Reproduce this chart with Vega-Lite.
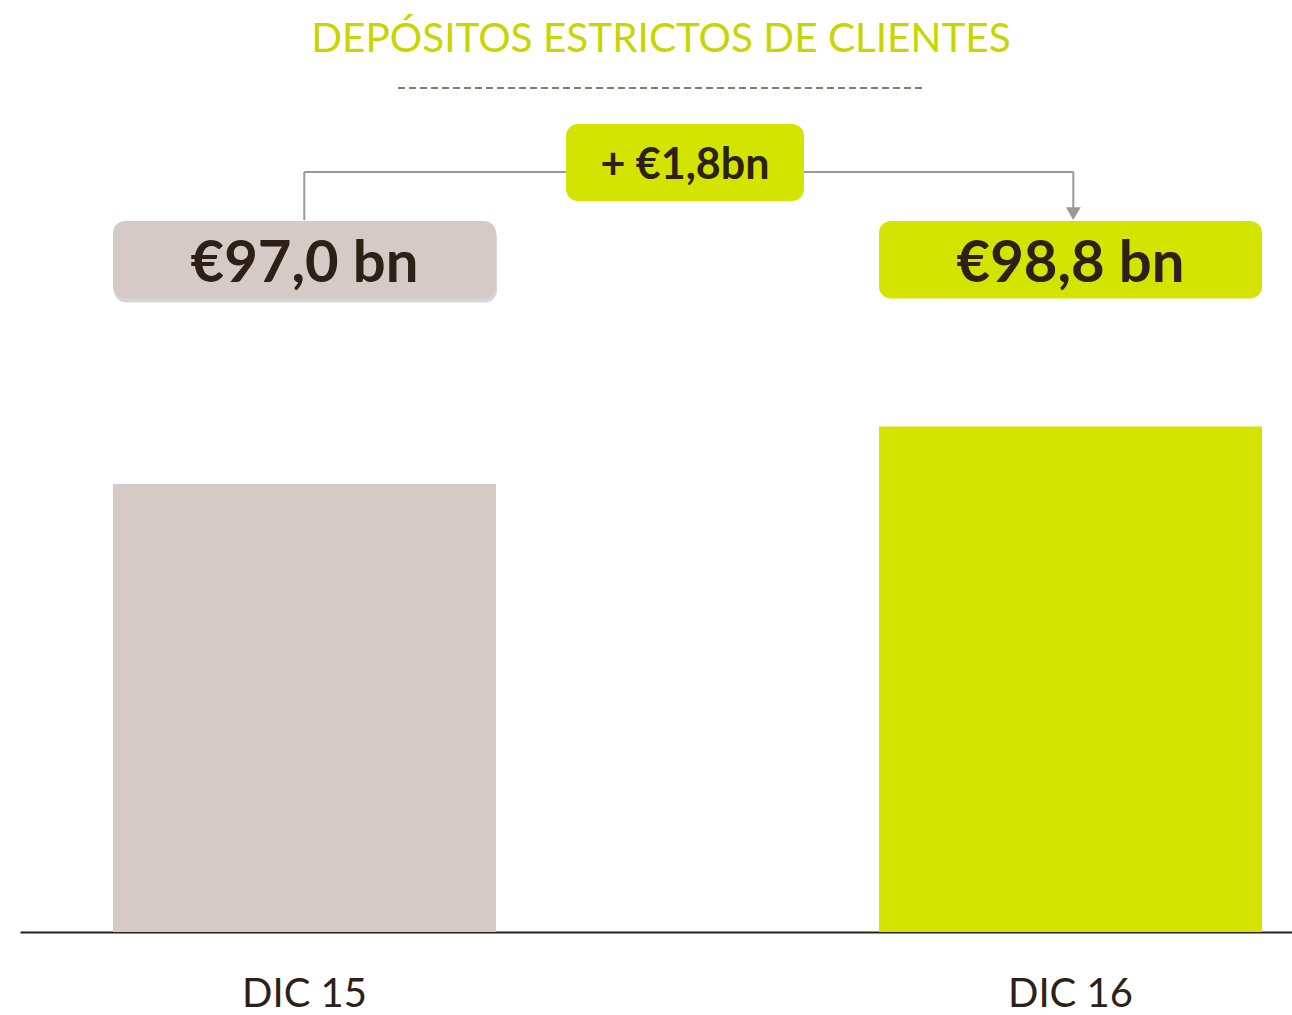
{
  "$schema": "https://vega.github.io/schema/vega-lite/v6.json",
  "width": 1272,
  "height": 852,
  "autosize": {"type": "none"},
  "padding": {"left": 20, "top": 80, "right": 0, "bottom": 83},
  "background": "white",
  "config": {"view": {"stroke": null}, "font": "Lato"},
  "title": {
    "text": "DEPÓSITOS ESTRICTOS DE CLIENTES",
    "font": "Lato",
    "fontSize": 40.5,
    "fontWeight": "normal",
    "color": "#c8d500",
    "anchor": "middle",
    "baseline": "alphabetic",
    "offset": -12,
    "dx": 5
  },
  "datasets": {
    "periodos": [
      {"periodo": "DIC 15", "valor": 97.0, "etiqueta": "€97,0 bn"},
      {"periodo": "DIC 16", "valor": 98.8, "etiqueta": "€98,8 bn"}
    ],
    "variacion": [
      {"etiqueta": "+ €1,8bn", "cambio": 1.8}
    ]
  },
  "layer": [
    {
      "data": {"name": "periodos"},
      "layer": [
        {
          "mark": {"type": "bar"},
          "encoding": {
            "x": {
              "field": "periodo", "type": "nominal",
              "scale": {"type": "band", "paddingInner": 0.5, "paddingOuter": 0.0803, "align": 0.756},
              "axis": {
                "title": null, "labelFont": "Lato", "labelFontSize": 40, "labelColor": "#2d2016",
                "labelAngle": 0, "ticks": false, "tickSize": 0, "labelPadding": 74,
                "labelBaseline": "alphabetic", "domainColor": "#2d2016", "domainWidth": 2, "grid": false
              }
            },
            "y": {"field": "valor", "type": "quantitative", "scale": {"domain": [83, 109.625], "nice": false, "zero": false}, "axis": null},
            "y2": {"datum": 83},
            "color": {"field": "periodo", "type": "nominal", "scale": {"domain": ["DIC 15", "DIC 16"], "range": ["#d5cac5", "#d2e400"]}, "legend": null}
          }
        },
        {
          "transform": [{"filter": "datum.periodo == 'DIC 15'"}],
          "mark": {"type": "bar", "cornerRadius": 12, "color": "#8a8a8a", "opacity": 0.35, "yOffset": 4, "y2Offset": 4, "xOffset": 1, "x2Offset": 1},
          "encoding": {
            "x": {"field": "periodo", "type": "nominal"},
            "y": {"datum": 105.22, "scale": {"domain": [83, 109.625], "nice": false, "zero": false}, "axis": null},
            "y2": {"datum": 102.8}
          }
        },
        {
          "mark": {"type": "bar", "cornerRadius": 12},
          "encoding": {
            "x": {"field": "periodo", "type": "nominal"},
            "y": {"datum": 105.22, "scale": {"domain": [83, 109.625], "nice": false, "zero": false}, "axis": null},
            "y2": {"datum": 102.8},
            "color": {"field": "periodo", "type": "nominal", "legend": null}
          }
        },
        {
          "mark": {"type": "text", "font": "Lato", "fontSize": 58, "fontWeight": "bold", "color": "#2d2016", "align": "center", "baseline": "alphabetic"},
          "encoding": {
            "x": {"field": "periodo", "type": "nominal"},
            "y": {"datum": 103.31, "scale": {"domain": [83, 109.625], "nice": false, "zero": false}, "axis": null},
            "text": {"field": "etiqueta"}
          }
        }
      ]
    },
    {
      "data": {"name": "variacion"},
      "layer": [
        {
          "mark": {"type": "rule", "color": "#8a7a6c", "strokeWidth": 2, "strokeDash": [7, 4]},
          "encoding": {
            "x": {"datum": 0.1224, "type": "quantitative", "scale": {"domain": [-0.3711, 1.2895], "nice": false, "zero": false}, "axis": null},
            "x2": {"datum": 0.8104},
            "y": {"datum": 109.375, "scale": {"domain": [83, 109.625], "nice": false, "zero": false}, "axis": null}
          }
        },
        {
          "mark": {"type": "rule", "color": "#999999", "strokeWidth": 2},
          "encoding": {
            "x": {"datum": 0, "type": "quantitative"},
            "y": {"datum": 106.75},
            "y2": {"datum": 105.25}
          }
        },
        {
          "mark": {"type": "rule", "color": "#999999", "strokeWidth": 2},
          "encoding": {
            "x": {"datum": 0, "type": "quantitative"},
            "x2": {"datum": 1.004},
            "y": {"datum": 106.75}
          }
        },
        {
          "mark": {"type": "rule", "color": "#999999", "strokeWidth": 2},
          "encoding": {
            "x": {"datum": 1.004, "type": "quantitative"},
            "y": {"datum": 106.75},
            "y2": {"datum": 105.62}
          }
        },
        {
          "mark": {"type": "point", "shape": "triangle-down", "filled": true, "color": "#999999", "size": 220, "opacity": 1},
          "encoding": {
            "x": {"datum": 1.004, "type": "quantitative"},
            "y": {"datum": 105.45}
          }
        },
        {
          "mark": {"type": "rect", "cornerRadius": 12, "color": "#d2e400"},
          "encoding": {
            "x": {"datum": 0.3417, "type": "quantitative"},
            "x2": {"datum": 0.6524},
            "y": {"datum": 108.25},
            "y2": {"datum": 105.844}
          }
        },
        {
          "mark": {"type": "text", "font": "Lato", "fontSize": 43, "fontWeight": "bold", "color": "#2d2016", "align": "center", "baseline": "alphabetic"},
          "encoding": {
            "x": {"datum": 0.497, "type": "quantitative"},
            "y": {"datum": 106.53},
            "text": {"field": "etiqueta"}
          }
        }
      ]
    }
  ],
  "resolve": {"scale": {"x": "independent"}}
}
